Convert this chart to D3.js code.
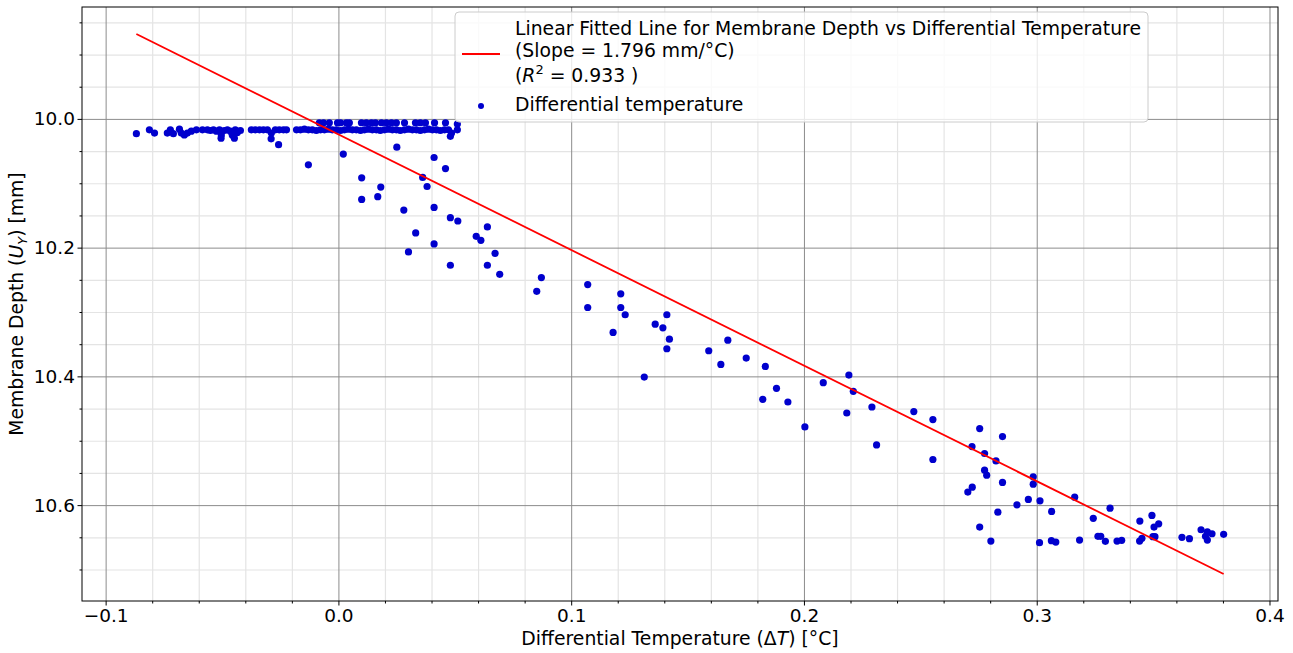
<!DOCTYPE html>
<html>
<head>
<meta charset="utf-8">
<script src="https://cdn.jsdelivr.net/npm/d3@7"></script>
<style>
  body { margin: 0; background: #fff; }
  svg { font-family: "DejaVu Sans", sans-serif; }
</style>
</head>
<body>
<svg id="chart" width="1293" height="653"></svg>
<script>
const fitSlope = 1.796;
const fitIntercept = 10.024;
const fitR2 = 0.933;

// plateau near 10.0 mm (lower row)
const plateauTemp = [-0.0868, -0.0812, -0.0790, -0.0735, -0.0722, -0.0709, -0.0683, -0.0675, -0.0662, -0.0649,
  -0.0632, -0.0610, -0.0584, -0.0563, -0.0550, -0.0537, -0.0524, -0.0511, -0.0504, -0.0503, -0.0490, -0.0477,
  -0.0464, -0.0456, -0.0447, -0.0443, -0.0434, -0.0421, -0.0374, -0.0357, -0.0339, -0.0322, -0.0305, -0.0289,
  -0.0288, -0.0271, -0.0257, -0.0254, -0.0236, -0.0223, -0.0180, -0.0163, -0.0146, -0.0129, -0.0112, -0.0095,
  -0.0077, -0.0060, -0.0043, -0.0026, -0.0009, 0.0009, 0.0026, 0.0043, 0.0060, 0.0077, 0.0095, 0.0112, 0.0129,
  0.0146, 0.0163, 0.0180, 0.0198, 0.0215, 0.0232, 0.0249, 0.0266, 0.0284, 0.0301, 0.0318, 0.0335, 0.0352,
  0.0370, 0.0387, 0.0404, 0.0421, 0.0438, 0.0456, 0.0473, 0.0481, 0.0486, 0.0511];
const plateauDepth = [10.023, 10.017, 10.022, 10.022, 10.017, 10.023, 10.016, 10.022, 10.025, 10.022,
  10.019, 10.017, 10.017, 10.017, 10.018, 10.017, 10.019, 10.017, 10.030, 10.025, 10.018, 10.017,
  10.019, 10.025, 10.030, 10.017, 10.021, 10.018, 10.017, 10.017, 10.017, 10.017, 10.017, 10.031,
  10.022, 10.017, 10.040, 10.017, 10.017, 10.017, 10.017, 10.017, 10.016, 10.017, 10.017, 10.018,
  10.017, 10.017, 10.016, 10.017, 10.017, 10.018, 10.017, 10.016, 10.017, 10.017, 10.018, 10.017, 10.016,
  10.017, 10.017, 10.018, 10.017, 10.016, 10.017, 10.017, 10.018, 10.017, 10.016, 10.017, 10.017, 10.018,
  10.017, 10.016, 10.017, 10.017, 10.018, 10.017, 10.017, 10.027, 10.022, 10.017];

// plateau upper row
const upperTemp = [-0.0082, -0.0064, -0.0039, -0.0004, 0.0009, 0.0034, 0.0047, 0.0099, 0.0120, 0.0142, 0.0159,
  0.0185, 0.0206, 0.0228, 0.0249, 0.0284, 0.0331, 0.0352, 0.0374, 0.0413, 0.0460, 0.0511];
const upperDepth = [10.006, 10.006, 10.006, 10.006, 10.006, 10.006, 10.006, 10.006, 10.006, 10.006, 10.006,
  10.006, 10.006, 10.006, 10.006, 10.006, 10.006, 10.006, 10.006, 10.006, 10.006, 10.008];

// descending part
const slopeTemp = [-0.0129, 0.0021, 0.0251, 0.0411, 0.0460, 0.0100, 0.0182, 0.0100, 0.0169, 0.0362, 0.0381,
  0.0281, 0.0411, 0.0481, 0.0513, 0.0640, 0.0332, 0.0592, 0.0612, 0.0411, 0.0301, 0.0673, 0.0481, 0.0640,
  0.0693, 0.0872, 0.0852, 0.1071, 0.1071, 0.1213, 0.1213, 0.1232, 0.1180, 0.1361, 0.1394, 0.1411, 0.1422,
  0.1411, 0.1314, 0.1591, 0.1673, 0.1643, 0.1752, 0.1834, 0.1882, 0.1823, 0.1931, 0.2004, 0.2083, 0.2193,
  0.2212, 0.2184, 0.2292, 0.2312, 0.2472, 0.2554, 0.2554, 0.2755, 0.2853, 0.2722, 0.2776, 0.2825, 0.2776,
  0.2785, 0.2853, 0.2704, 0.2723, 0.2755, 0.2803, 0.2833, 0.2915, 0.2964, 0.3014, 0.2985, 0.2985, 0.3064,
  0.3012, 0.3063, 0.3082, 0.3163, 0.3243, 0.3315, 0.3184, 0.3263, 0.3275, 0.3295, 0.3345, 0.3365, 0.3442,
  0.3452, 0.3443, 0.3495, 0.3504, 0.3524, 0.3499, 0.3508, 0.3624, 0.3656, 0.3706, 0.3733, 0.3725, 0.3733,
  0.3753, 0.3803];
const slopeDepth = [10.0713, 10.0547, 10.0439, 10.0600, 10.0771, 10.0915, 10.1059, 10.1251, 10.1209, 10.0910, 10.1050,
  10.1416, 10.1375, 10.1535, 10.1586, 10.1679, 10.1772, 10.1825, 10.1887, 10.1943, 10.2067, 10.2088, 10.2274, 10.2274,
  10.2414, 10.2465, 10.2678, 10.2574, 10.2930, 10.2718, 10.2930, 10.3043, 10.3318, 10.3189, 10.3245, 10.3043, 10.3422,
  10.3571, 10.4011, 10.3602, 10.3437, 10.3814, 10.3716, 10.3845, 10.4186, 10.4357, 10.4398, 10.4786, 10.4098, 10.3980,
  10.4233, 10.4569, 10.4476, 10.5065, 10.4547, 10.4671, 10.5291, 10.4811, 10.4935, 10.5090, 10.5198, 10.5313, 10.5457,
  10.5535, 10.5648, 10.5798, 10.5721, 10.6341, 10.6558, 10.6109, 10.5995, 10.5912, 10.5933, 10.5561, 10.5674, 10.6098,
  10.6584, 10.6553, 10.6574, 10.5876, 10.6206, 10.6047, 10.6543, 10.6485, 10.6485, 10.6563, 10.6558, 10.6547, 10.6558,
  10.6516, 10.6248, 10.6160, 10.6341, 10.6290, 10.6491, 10.6491, 10.6501, 10.6522, 10.6383, 10.6414, 10.6485, 10.6543,
  10.6445, 10.6454];

// ticks
const xMajorTicks = [-0.1, 0.0, 0.1, 0.2, 0.3, 0.4];
const xMinorTicks = [-0.08, -0.06, -0.04, -0.02, 0.02, 0.04, 0.06, 0.08, 0.12, 0.14, 0.16, 0.18,
  0.22, 0.24, 0.26, 0.28, 0.32, 0.34, 0.36, 0.38];
const yMajorTicks = [10.0, 10.2, 10.4, 10.6];
const yMinorTicks = [9.85, 9.90, 9.95, 10.05, 10.10, 10.15, 10.25, 10.30, 10.35, 10.45, 10.50, 10.55, 10.65, 10.70];

const points = [];
plateauTemp.forEach((t, i) => points.push({ t: t, d: plateauDepth[i] }));
upperTemp.forEach((t, i) => points.push({ t: t, d: upperDepth[i] }));
slopeTemp.forEach((t, i) => points.push({ t: t, d: slopeDepth[i] }));

const margin = { top: 7, right: 15, bottom: 52, left: 82 };
const width = 1293 - margin.left - margin.right;
const height = 653 - margin.top - margin.bottom;
const labelSize = 18.8;
const tickFont = 18.5;

const svg = d3.select("#chart");
const g = svg.append("g").attr("transform", `translate(${margin.left},${margin.top})`);

const tExt = d3.extent(points, p => p.t);
const fitLine = tExt.map(t => ({ t: t, d: fitIntercept + fitSlope * t }));
const dExt = d3.extent(points.concat(fitLine), p => p.d);
const tPad = (tExt[1] - tExt[0]) * 0.05;
const dPad = (dExt[1] - dExt[0]) * 0.05;

const x = d3.scaleLinear().domain([tExt[0] - tPad, tExt[1] + tPad]).range([0, width]);
// inverted: depth grows downward
const y = d3.scaleLinear().domain([dExt[0] - dPad, dExt[1] + dPad]).range([0, height]);

function grid(axis, ticks, size, color, w, bottom) {
  const gg = g.append("g");
  if (bottom) gg.attr("transform", `translate(0,${height})`);
  gg.call(axis.tickValues(ticks).tickSize(-size).tickFormat(""))
    .call(a => a.select(".domain").remove());
  gg.selectAll("line").attr("stroke", color).attr("stroke-width", w);
}
grid(d3.axisBottom(x), xMinorTicks, height, "#e4e4e4", 1.2, true);
grid(d3.axisLeft(y), yMinorTicks, width, "#e4e4e4", 1.2, false);
grid(d3.axisBottom(x), xMajorTicks, height, "#8c8c8c", 1, true);
grid(d3.axisLeft(y), yMajorTicks, width, "#8c8c8c", 1, false);

// scatter
g.append("g")
  .selectAll("circle")
  .data(points)
  .enter()
  .append("circle")
  .attr("cx", p => x(p.t))
  .attr("cy", p => y(p.d))
  .attr("r", 3.6)
  .attr("fill", "#0000cd");

// fitted line
g.append("path")
  .datum(fitLine)
  .attr("fill", "none")
  .attr("stroke", "#ff0000")
  .attr("stroke-width", 1.8)
  .attr("d", d3.line().x(p => x(p.t)).y(p => y(p.d)));

// frame
g.append("rect")
  .attr("width", width).attr("height", height)
  .attr("fill", "none").attr("stroke", "#000").attr("stroke-width", 1);

// axes ticks + labels
const fmt = d3.format(".1f");
g.append("g").attr("transform", `translate(0,${height})`)
  .call(d3.axisBottom(x).tickValues(xMajorTicks).tickSize(4.5).tickPadding(3).tickFormat(fmt));
g.append("g").attr("transform", `translate(0,${height})`)
  .call(d3.axisBottom(x).tickValues(xMinorTicks).tickSize(2.5).tickFormat(""));
g.append("g")
  .call(d3.axisLeft(y).tickValues(yMajorTicks).tickSize(4.5).tickPadding(2.5).tickFormat(fmt));
g.append("g")
  .call(d3.axisLeft(y).tickValues(yMinorTicks).tickSize(2.5).tickFormat(""));
g.selectAll(".domain").remove();
g.selectAll(".tick text")
  .attr("font-family", "DejaVu Sans, sans-serif")
  .attr("font-size", tickFont)
  .attr("fill", "#000");

// x label
const xl = svg.append("text")
  .attr("x", margin.left + width / 2)
  .attr("y", 645)
  .attr("text-anchor", "middle")
  .attr("font-size", labelSize);
xl.append("tspan").text("Differential Temperature (Δ");
xl.append("tspan").attr("font-style", "italic").text("T");
xl.append("tspan").text(") [°C]");

// y label
const yl = svg.append("text")
  .attr("transform", `translate(23,${margin.top + height / 2}) rotate(-90)`)
  .attr("text-anchor", "middle")
  .attr("font-size", labelSize);
yl.append("tspan").text("Membrane Depth (");
yl.append("tspan").attr("font-style", "italic").text("U");
yl.append("tspan").attr("font-style", "italic").attr("font-size", 13).attr("dy", 3.5).text("Y");
yl.append("tspan").attr("dy", -3.5).text(") [mm]");

// legend
const leg = svg.append("g").attr("transform", "translate(455,12)");
leg.append("rect")
  .attr("width", 693).attr("height", 110)
  .attr("rx", 4)
  .attr("fill", "#fff").attr("fill-opacity", 0.8)
  .attr("stroke", "#cccccc").attr("stroke-width", 1);
leg.append("line")
  .attr("x1", 7).attr("x2", 45).attr("y1", 42).attr("y2", 42)
  .attr("stroke", "#ff0000").attr("stroke-width", 1.8);
leg.append("text").attr("x", 60).attr("y", 23).attr("font-size", labelSize)
  .text("Linear Fitted Line for Membrane Depth vs Differential Temperature");
leg.append("text").attr("x", 60).attr("y", 45).attr("font-size", labelSize)
  .text(`(Slope = ${fitSlope} mm/°C)`);
const r2 = leg.append("text").attr("x", 60).attr("y", 70).attr("font-size", labelSize);
r2.append("tspan").text("(");
r2.append("tspan").attr("font-style", "italic").text("R");
r2.append("tspan").attr("font-size", 13).attr("dy", -8).text("2");
r2.append("tspan").attr("dy", 8).text(` = ${fitR2} )`);
leg.append("circle").attr("cx", 26).attr("cy", 94).attr("r", 3).attr("fill", "#0000cd");
leg.append("text").attr("x", 60).attr("y", 99).attr("font-size", labelSize)
  .text("Differential temperature");
</script>
</body>
</html>
